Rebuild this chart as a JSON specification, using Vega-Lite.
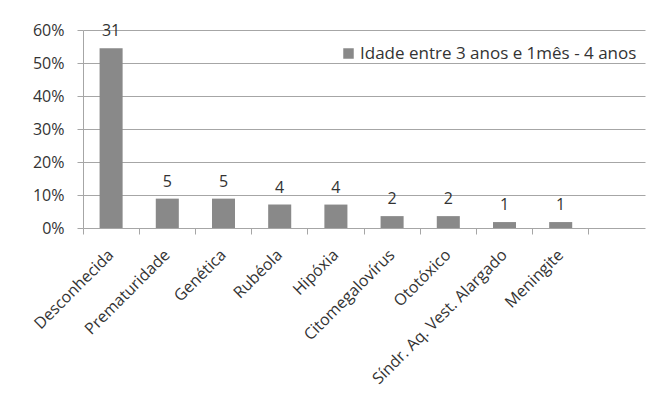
{
  "$schema": "https://vega.github.io/schema/vega-lite/v6.json",
  "width": 551,
  "height": 198,
  "autosize": "none",
  "padding": {"left": 83, "top": 30, "right": 27, "bottom": 183},
  "background": "white",
  "config": {
    "font": "Open Sans",
    "view": {"stroke": null},
    "axis": {"labelFont": "Open Sans", "labelColor": "#333333", "labelFontSize": 16}
  },
  "data": {
    "values": [
      {"causa": "Desconhecida", "n": 31, "pct": 0.545, "serie": "Idade entre 3 anos e 1mês - 4 anos"},
      {"causa": "Prematuridade", "n": 5, "pct": 0.089, "serie": "Idade entre 3 anos e 1mês - 4 anos"},
      {"causa": "Genética", "n": 5, "pct": 0.089, "serie": "Idade entre 3 anos e 1mês - 4 anos"},
      {"causa": "Rubéola", "n": 4, "pct": 0.071, "serie": "Idade entre 3 anos e 1mês - 4 anos"},
      {"causa": "Hipóxia", "n": 4, "pct": 0.071, "serie": "Idade entre 3 anos e 1mês - 4 anos"},
      {"causa": "Citomegalovírus", "n": 2, "pct": 0.036, "serie": "Idade entre 3 anos e 1mês - 4 anos"},
      {"causa": "Ototóxico", "n": 2, "pct": 0.036, "serie": "Idade entre 3 anos e 1mês - 4 anos"},
      {"causa": "Síndr. Aq. Vest. Alargado", "n": 1, "pct": 0.018, "serie": "Idade entre 3 anos e 1mês - 4 anos"},
      {"causa": "Meningite", "n": 1, "pct": 0.018, "serie": "Idade entre 3 anos e 1mês - 4 anos"}
    ]
  },
  "encoding": {
    "x": {
      "field": "causa",
      "type": "nominal",
      "sort": null,
      "title": null,
      "scale": {
        "domain": ["Desconhecida", "Prematuridade", "Genética", "Rubéola", "Hipóxia", "Citomegalovírus", "Ototóxico", "Síndr. Aq. Vest. Alargado", "Meningite", " "],
        "range": [0, 562],
        "paddingInner": 0,
        "paddingOuter": 0
      },
      "axis": {
        "labelAngle": -45,
        "labelAlign": "right",
        "labelBaseline": "middle",
        "labelPadding": 18,
        "labelLimit": 300,
        "bandPosition": 0,
        "domain": false,
        "ticks": true,
        "tickSize": 6,
        "tickColor": "#a6a6a6",
        "grid": false
      }
    },
    "y": {
      "field": "pct",
      "type": "quantitative",
      "title": null,
      "scale": {"domain": [0, 0.6], "nice": false},
      "axis": {
        "values": [0, 0.1, 0.2, 0.3, 0.4, 0.5, 0.6],
        "format": ".0%",
        "tickSize": 6,
        "tickColor": "#a6a6a6",
        "domainColor": "#a6a6a6",
        "gridColor": "#a6a6a6",
        "grid": true,
        "labelPadding": 13
      }
    }
  },
  "layer": [
    {
      "mark": {"type": "bar", "width": {"band": 0.41}},
      "encoding": {
        "color": {
          "field": "serie",
          "type": "nominal",
          "scale": {"range": ["#898989"]},
          "legend": {
            "title": null,
            "orient": "none",
            "legendX": 257,
            "legendY": 15,
            "padding": 0,
            "symbolType": "square",
            "symbolSize": 110,
            "symbolStrokeWidth": 0,
            "labelFont": "Open Sans",
            "labelFontSize": 17,
            "labelLimit": 400,
            "labelColor": "#333333",
            "labelOffset": 3
          }
        }
      }
    },
    {
      "mark": {"type": "text", "baseline": "bottom", "dy": -9, "fontSize": 16, "color": "#333333", "font": "Open Sans"},
      "encoding": {
        "text": {"field": "n", "type": "quantitative"}
      }
    }
  ]
}
